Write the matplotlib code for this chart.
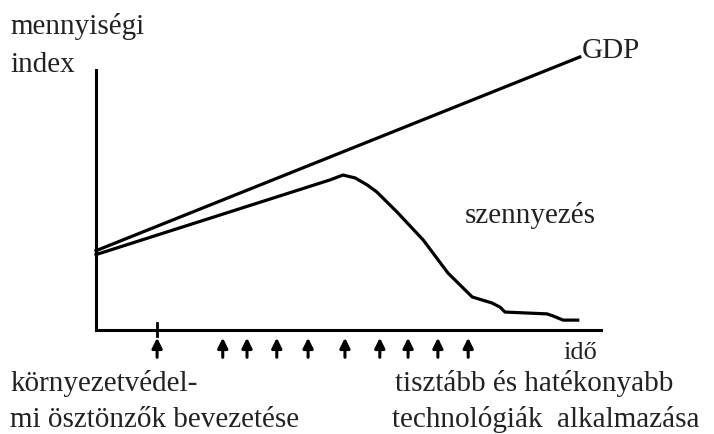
import matplotlib.pyplot as plt

plt.rcParams['font.family'] = ['Liberation Serif', 'DejaVu Serif']

# --- Data (time units 0-10, quantity index 0-100) ---
gdp_x = [0.0, 9.58]
gdp_y = [30.5, 105.0]

poll_x = [0.0, 4.63, 4.89, 5.13, 5.37, 5.56, 5.96, 6.48, 6.97, 7.45,
          7.84, 8.0, 8.10, 8.93, 9.05, 9.25, 9.54]
poll_y = [29.0, 57.7, 59.6, 58.5, 55.8, 53.1, 45.4, 34.6, 21.9, 12.7,
          10.4, 8.8, 6.9, 6.2, 5.4, 3.8, 3.8]

# time of policy measures (first one marked on the axis)
policy_x = [1.21, 2.51, 2.99, 3.58, 4.20, 4.93, 5.62, 6.18, 6.77, 7.37]

fig = plt.figure(figsize=(7.14, 4.34), dpi=100)
ax = fig.add_axes([96 / 714, 1 - 330 / 434, 505 / 714, 290 / 434])
ax.set_xlim(0, 10)
ax.set_ylim(0, 290 / 2.6)

ax.plot(gdp_x, gdp_y, color='black', lw=2.3, clip_on=False)
ax.plot(poll_x, poll_y, color='black', lw=2.3, clip_on=False)

# --- Axes: only left and bottom lines ---
for s in ['top', 'right']:
    ax.spines[s].set_visible(False)
ax.spines['left'].set_linewidth(2.2)
ax.spines['bottom'].set_linewidth(2.2)
ax.spines['left'].set_bounds(0, 100)
ax.set_xticks([])
ax.set_yticks([])

# tick mark on axis for the first measure
ax.plot([policy_x[0], policy_x[0]], [2.7, -2.3], color='black', lw=2, clip_on=False)

# arrows below the axis
for px in policy_x:
    ax.annotate('', xy=(px, -3.0), xytext=(px, -10.5),
                arrowprops=dict(arrowstyle='-|>', lw=2.2, color='black',
                                mutation_scale=15, shrinkA=0, shrinkB=0),
                annotation_clip=False)

# --- Labels ---
fs = 21
def label(x, y, s, size=fs):
    fig.text(x / 714, 1 - y / 434, s, fontsize=size, va='baseline', ha='left',
             color='#222222')

label(10, 34, 'mennyiségi')
label(10, 72, 'index')
label(582, 58, 'GDP')
label(465, 223, 'szennyezés')
label(563, 359, 'idő', 19)
label(10, 391, 'környezetvédel-')
label(10, 427, 'mi ösztönzők bevezetése')
label(395, 391, 'tisztább és hatékonyabb')
label(392, 427, 'technológiák  alkalmazása')

fig.savefig('out.png', dpi=100)
